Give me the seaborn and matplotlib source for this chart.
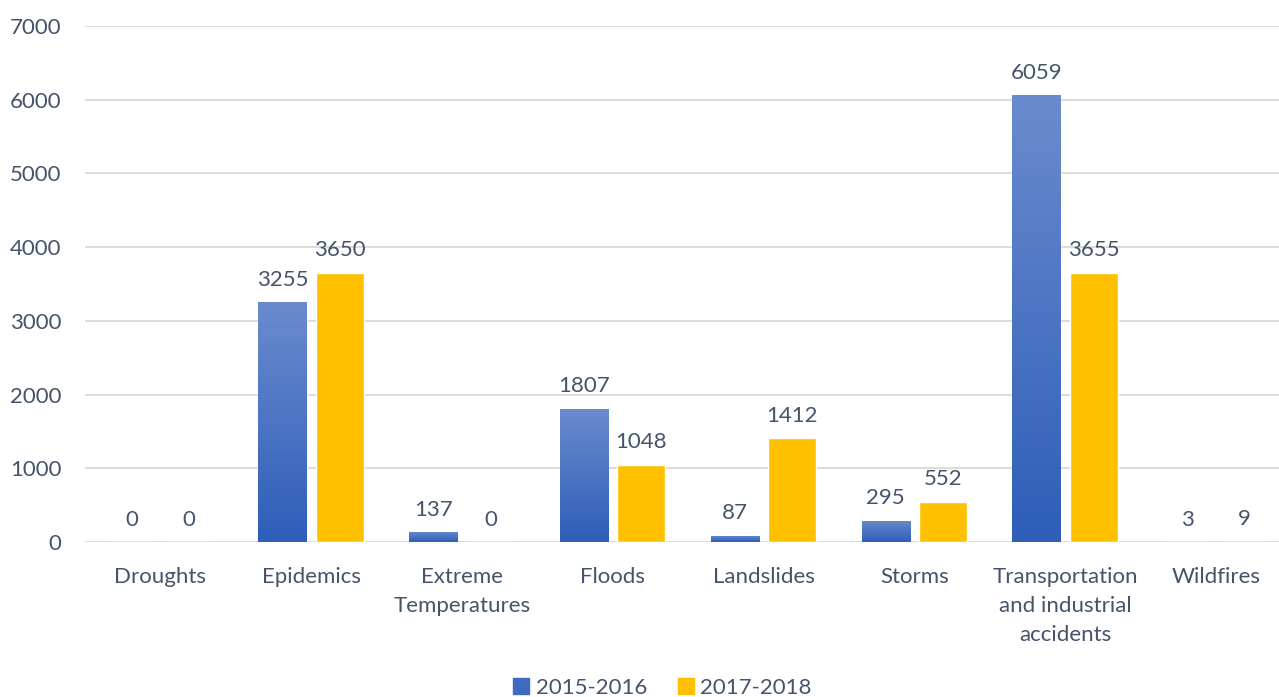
import numpy as np
import pandas as pd
import matplotlib
matplotlib.use("Agg")
import matplotlib.pyplot as plt
from matplotlib.colors import LinearSegmentedColormap
import seaborn as sns

# --- Data ---------------------------------------------------------------------
categories = ["Droughts", "Epidemics", "Extreme\nTemperatures", "Floods",
              "Landslides", "Storms", "Transportation\nand industrial\naccidents",
              "Wildfires"]
series = ["2015-2016", "2017-2018"]
vals_2015_2016 = [0, 3255, 137, 1807, 87, 295, 6059, 3]
vals_2017_2018 = [0, 3650, 0, 1048, 1412, 552, 3655, 9]
yticks = [0, 1000, 2000, 3000, 4000, 5000, 6000, 7000]

df = pd.DataFrame({
    "category": categories * 2,
    "period": [series[0]] * len(categories) + [series[1]] * len(categories),
    "value": vals_2015_2016 + vals_2017_2018,
})

# --- Style --------------------------------------------------------------------
TEXT = "#44546A"
BLUE = "#4472C4"
GOLD = "#FFC000"
FS = 16
sns.set_style("white")
plt.rcParams["font.family"] = ["Lato", "DejaVu Sans"]

fig = plt.figure(figsize=(12.79, 6.97), dpi=100)
# plot area runs a little past the right edge, like the original
ax = fig.add_axes([0.0665, 0.222, 0.943, 0.741])

sns.barplot(data=df, x="category", y="value", hue="period",
            palette=[BLUE, GOLD], width=0.76, gap=0.16, saturation=1,
            ax=ax, legend=False, zorder=3)

ax.set_yticks(yticks)
ax.yaxis.grid(True, color="#D9D9D9", linewidth=1.3, zorder=0)
ax.set_axisbelow(True)
for s in ax.spines.values():
    s.set_visible(False)
ax.set_xlabel("")
ax.set_ylabel("")
ax.tick_params(axis="both", length=0, labelsize=FS, colors=TEXT)
ax.tick_params(axis="x", pad=18)
ax.tick_params(axis="y", pad=17)
for lbl in ax.get_xticklabels():
    lbl.set_linespacing(1.55)

# gradient fill for the first series
grad = LinearSegmentedColormap.from_list("g", ["#2E5EB8", "#6A8BCE"])
for bar in ax.containers[0]:
    x0, y0 = bar.get_x(), bar.get_y()
    w, h = bar.get_width(), bar.get_height()
    if h <= 0:
        continue
    img = ax.imshow(np.linspace(0, 1, 256).reshape(-1, 1), cmap=grad,
                    origin="lower", extent=[x0, x0 + w, y0, y0 + h],
                    aspect="auto", zorder=3.5)
    img.set_clip_path(bar)
    bar.set_facecolor("none")
ax.set_xlim(-0.5, len(categories) - 0.5)
ax.set_ylim(0, 7000)

for cont in ax.containers:
    ax.bar_label(cont, fmt="%d", padding=9, fontsize=FS, color=TEXT)

handles = [plt.Rectangle((0, 0), 1, 1, color="#3F6AC0"),
           plt.Rectangle((0, 0), 1, 1, color=GOLD)]
fig.legend(handles, series, loc="lower center", bbox_to_anchor=(0.518, -0.03),
           ncol=2, frameon=False, fontsize=FS, labelcolor=TEXT,
           handlelength=0.7, handleheight=0.7, handletextpad=0.3,
           columnspacing=1.4)

fig.savefig("out.png", dpi=100)
